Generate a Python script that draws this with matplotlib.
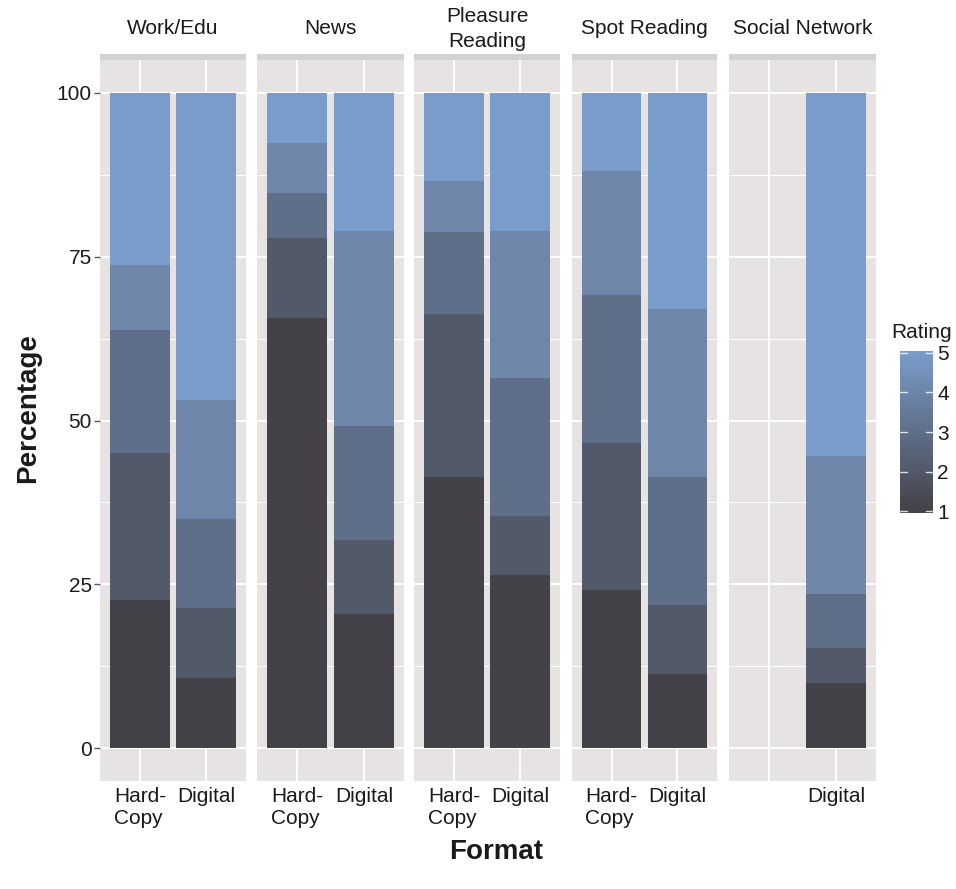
import matplotlib
matplotlib.use("Agg")
import matplotlib.pyplot as plt
import numpy as np
from matplotlib.colors import LinearSegmentedColormap, Normalize
from matplotlib.patches import Rectangle

plt.rcParams['font.family'] = ['Liberation Sans', 'DejaVu Sans']

# ---- data ----
facets = ["Work/Edu", "News", "Pleasure\nReading", "Spot Reading", "Social Network"]
formats = ["Hard-\nCopy", "Digital"]
ratings = [1, 2, 3, 4, 5]
# percentage of each rating (1..5) per facet, per format (None = no bar)
hardcopy = [
    [22.6, 22.5, 18.7, 9.9, 26.3],
    [65.6, 12.2, 6.9, 7.7, 7.6],
    [41.4, 24.8, 12.6, 7.7, 13.5],
    [24.2, 22.4, 22.5, 19.0, 11.9],
    None,
]
digital = [
    [10.7, 10.7, 13.5, 18.3, 46.8],
    [20.5, 11.3, 17.4, 29.7, 21.1],
    [26.5, 8.9, 21.1, 22.4, 21.1],
    [11.4, 10.4, 19.6, 25.6, 33.0],
    [10.0, 5.3, 8.2, 21.1, 55.4],
]
xtick_labels = [formats, formats, formats, formats, ["", "Digital"]]
y_ticks = [0, 25, 50, 75, 100]

# ---- style ----
low, high = "#444248", "#7A9CCA"
cmap = LinearSegmentedColormap.from_list("rating", [low, high])
norm = Normalize(1, 5)
panel_bg = "#E6E3E2"
strip_band = "#D4D2D1"
text_col = "#1a1a1a"
fs = 15

W, H = 956, 889
fig = plt.figure(figsize=(W / 100, H / 100), dpi=100)

def box(x0, y0, x1, y1):
    return [x0 / W, 1 - y1 / H, (x1 - x0) / W, (y1 - y0) / H]

panel_x = [(100, 246), (257, 404), (414, 560), (572, 717), (729, 876)]
ptop, pbot = 60, 781

for i, (x0, x1) in enumerate(panel_x):
    ax = fig.add_axes(box(x0, ptop, x1, pbot))
    ax.set_facecolor(panel_bg)
    for s in ax.spines.values():
        s.set_visible(False)
    ax.set_xlim(0.4, 2.6)
    ax.set_ylim(-5, 105)
    # grid
    for yv in [12.5, 37.5, 62.5, 87.5]:
        ax.axhline(yv, color="white", lw=0.7, zorder=0)
    for yv in y_ticks:
        ax.axhline(yv, color="white", lw=1.4, zorder=0)
    for xv in [1, 2]:
        ax.axvline(xv, color="white", lw=1.4, zorder=0)
    # bars
    for xpos, data in [(1, hardcopy[i]), (2, digital[i])]:
        if data is None:
            continue
        bottom = 0
        for r, v in zip(ratings, data):
            ax.bar(xpos, v, width=0.9, bottom=bottom, color=cmap(norm(r)),
                   edgecolor="none", zorder=2)
            bottom += v
    ax.set_xticks([1, 2])
    ax.set_xticklabels(xtick_labels[i], fontsize=fs, color=text_col,
                       multialignment="left", linespacing=1.25)
    ax.tick_params(axis="x", length=0, pad=4)
    ax.set_yticks(y_ticks)
    if i == 0:
        ax.set_yticklabels([str(v) for v in y_ticks], fontsize=fs, color=text_col)
        ax.tick_params(axis="y", length=4, color="#555555", width=1, pad=2)
    else:
        ax.tick_params(axis="y", length=0, labelleft=False)
    # strip
    fig.add_artist(Rectangle((x0 / W, 1 - ptop / H), (x1 - x0) / W, 6 / H,
                             transform=fig.transFigure, color=strip_band, lw=0))
    fig.text((x0 + x1) / 2 / W, 1 - 29 / H, facets[i], ha="center", va="center",
             fontsize=fs, color=text_col, linespacing=1.35)

# axis titles
fig.text(496 / W, 1 - 852 / H, "Format", ha="center", va="center",
         fontsize=20, fontweight="bold", color=text_col)
fig.text(28 / W, 1 - 408 / H, "Percentage", ha="center", va="center",
         fontsize=20, fontweight="bold", color=text_col, rotation=90)

# colourbar legend
cax = fig.add_axes(box(900, 351, 933, 513))
grad = np.linspace(0.95, 5.05, 256).reshape(-1, 1)
cax.imshow(grad, aspect="auto", cmap=cmap, norm=norm, origin="lower",
           extent=[0, 1, 0.95, 5.05])
cax.set_xlim(0, 1)
cax.set_ylim(0.95, 5.05)
for s in cax.spines.values():
    s.set_visible(False)
cax.set_xticks([])
for r in ratings:
    cax.plot([0, 0.2], [r, r], color="white", lw=1, alpha=0.8)
    cax.plot([0.8, 1], [r, r], color="white", lw=1, alpha=0.8)
cax.yaxis.tick_right()
cax.set_yticks(ratings)
cax.set_yticklabels([str(r) for r in ratings], fontsize=fs, color=text_col)
cax.tick_params(axis="y", length=0, pad=3)
fig.text(891 / W, 1 - 333 / H, "Rating", ha="left", va="center",
         fontsize=fs, color=text_col)

fig.savefig("out.png", dpi=100, facecolor="white")
